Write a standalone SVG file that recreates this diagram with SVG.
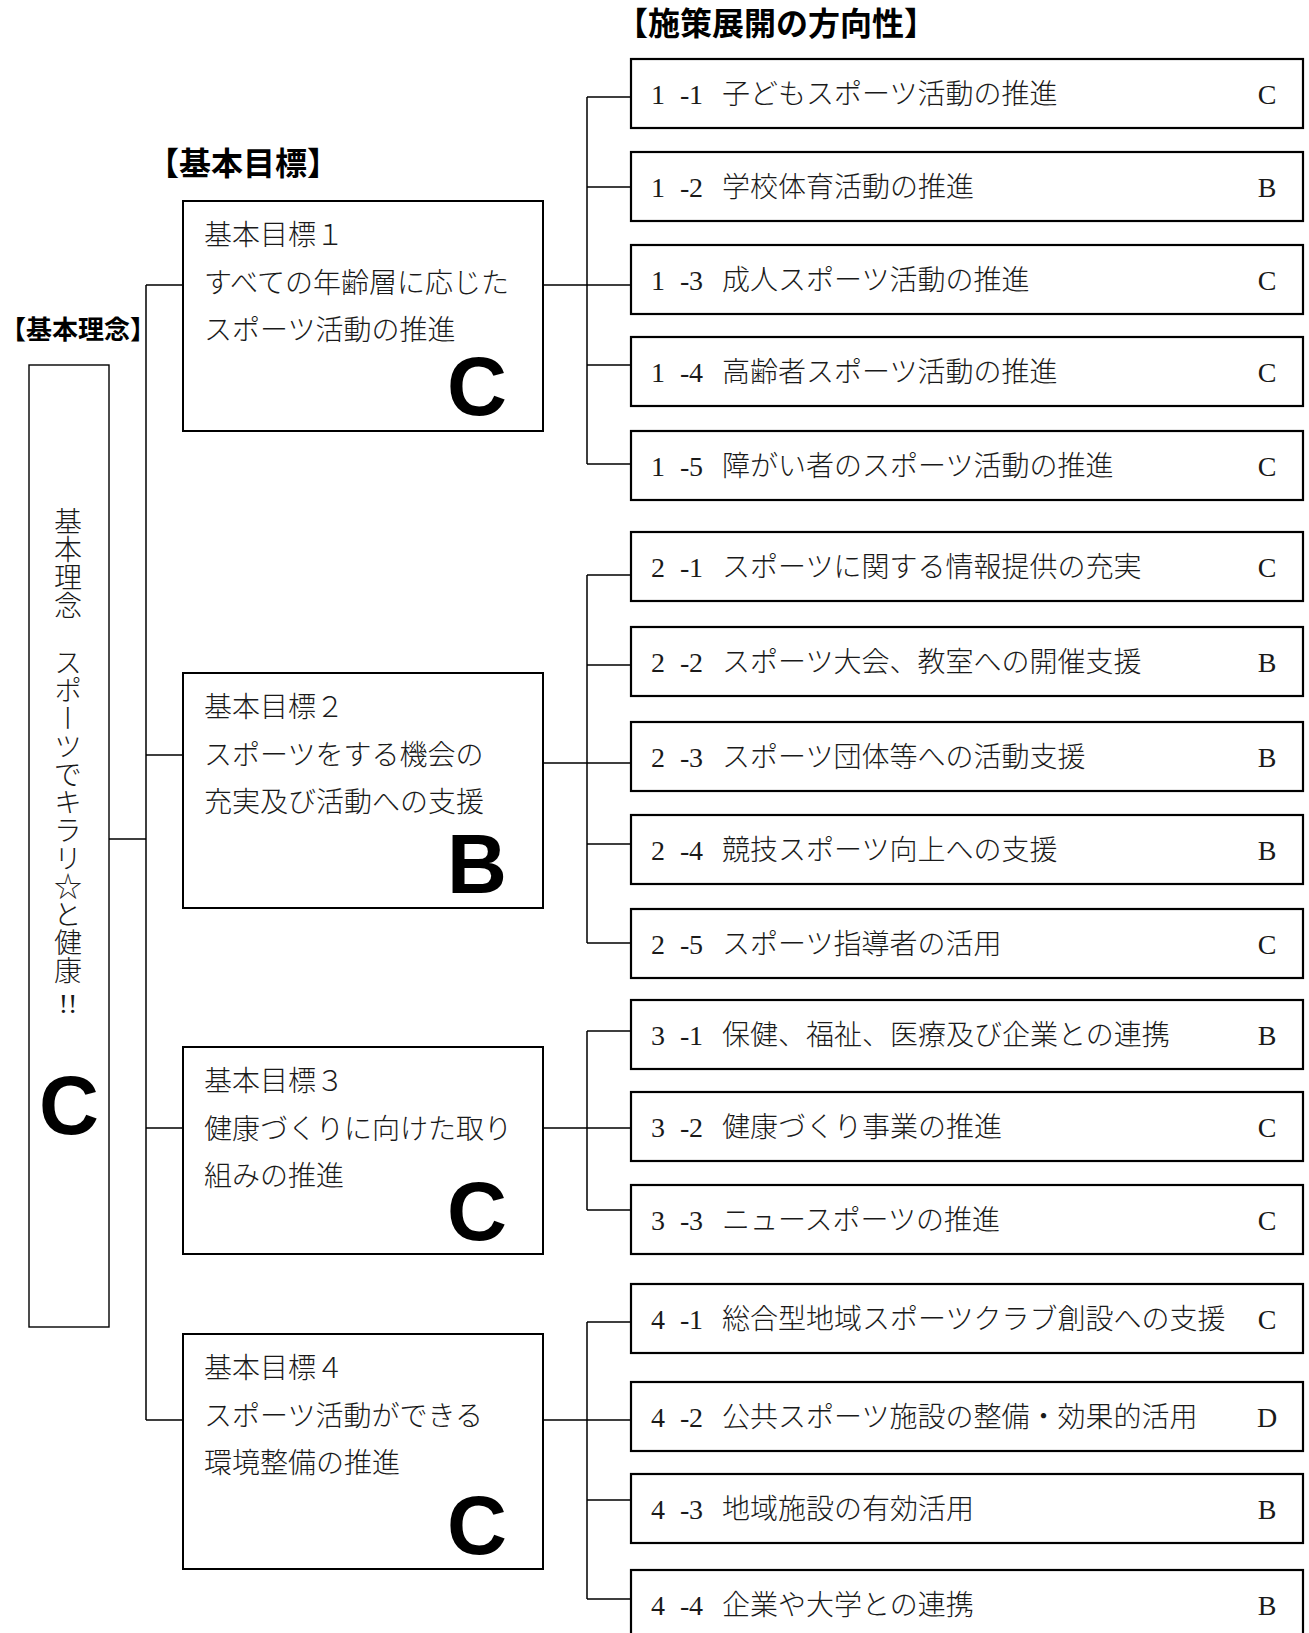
<svg xmlns="http://www.w3.org/2000/svg" width="1309" height="1633" viewBox="0 0 1309 1633">
<style>
.bg{fill:#ffffff}
.sb{fill:#ffffff;stroke:#000;stroke-width:2.2}
.gb{fill:#ffffff;stroke:#000;stroke-width:2}
.lb{fill:#ffffff;stroke:#000;stroke-width:1.4}
.ln{fill:none;stroke:#000;stroke-width:1.5}
.st{font-family:"Liberation Serif","Noto Sans CJK JP",serif;font-size:28px;font-weight:300;fill:#1a1a1a}
.rt{font-family:"Liberation Serif",serif;font-size:28px;fill:#1a1a1a;text-anchor:middle}
.hd{font-family:"Noto Sans CJK JP",sans-serif;font-weight:bold;fill:#000}
.big{font-family:"Liberation Sans",Arial,sans-serif;font-weight:bold;font-size:83px;fill:#000}
.vt{font-family:"Noto Sans CJK JP",sans-serif;font-size:28px;font-weight:300;fill:#1a1a1a;writing-mode:vertical-rl}
</style>
<rect class="bg" x="0" y="0" width="1309" height="1633"/>

<g id="headings">
<text class="hd" x="0" y="339" font-size="26">【基本理念】</text>
<text class="hd" x="243" y="175" font-size="32" text-anchor="middle">【基本目標】</text>
<text class="hd" x="776" y="35" font-size="32" text-anchor="middle">【施策展開の方向性】</text>
</g>

<g id="connectors">
<path class="ln" d="M109 839H146M146 285V1420M146 285H183M146 755H183M146 1128H183M146 1420H183"/>
<path class="ln" d="M543 285H587M587 97V464M587 97H631M587 187H631M587 285H631M587 365H631M587 464H631"/>
<path class="ln" d="M543 763H587M587 575V943M587 575H631M587 665H631M587 763H631M587 844H631M587 943H631"/>
<path class="ln" d="M543 1128H587M587 1031V1210M587 1031H631M587 1128H631M587 1210H631"/>
<path class="ln" d="M543 1420H587M587 1322V1599M587 1322H631M587 1420H631M587 1500H631M587 1599H631"/>
</g>

<g id="kihonrinen">
<rect class="lb" x="29" y="365" width="80" height="962"/>
<text class="vt" x="68" y="507">基本理念</text>
<text class="vt" x="68" y="648">スポーツでキラリ☆と健康</text>
<text class="rt" x="68" y="1013" font-size="26">!!</text>
<text class="big" x="69" y="1134" text-anchor="middle">C</text>
</g>

<g id="goal1">
<rect class="gb" x="183" y="201" width="360" height="230"/>
<text class="st" x="204" y="245">基本目標１</text>
<text class="st" x="204" y="292.5">すべての年齢層に応じた</text>
<text class="st" x="204" y="340">スポーツ活動の推進</text>
<text class="big" x="507" y="415" text-anchor="end">C</text>
</g>
<g id="goal2">
<rect class="gb" x="183" y="673" width="360" height="235"/>
<text class="st" x="204" y="717">基本目標２</text>
<text class="st" x="204" y="764.5">スポーツをする機会の</text>
<text class="st" x="204" y="812">充実及び活動への支援</text>
<text class="big" x="507" y="893" text-anchor="end">B</text>
</g>
<g id="goal3">
<rect class="gb" x="183" y="1047" width="360" height="207"/>
<text class="st" x="204" y="1091">基本目標３</text>
<text class="st" x="204" y="1138.5">健康づくりに向けた取り</text>
<text class="st" x="204" y="1186">組みの推進</text>
<text class="big" x="507" y="1240" text-anchor="end">C</text>
</g>
<g id="goal4">
<rect class="gb" x="183" y="1334" width="360" height="235"/>
<text class="st" x="204" y="1378">基本目標４</text>
<text class="st" x="204" y="1425.5">スポーツ活動ができる</text>
<text class="st" x="204" y="1473">環境整備の推進</text>
<text class="big" x="507" y="1554" text-anchor="end">C</text>
</g>

<g id="s1-1"><rect class="sb" x="631" y="59" width="672" height="69"/><text class="st" y="103.5"><tspan x="651">1</tspan><tspan x="680">-</tspan><tspan x="689">1</tspan><tspan x="722">子どもスポーツ活動の推進</tspan></text><text class="rt" x="1267" y="103.5">C</text></g>
<g id="s1-2"><rect class="sb" x="631" y="152" width="672" height="69"/><text class="st" y="196.5"><tspan x="651">1</tspan><tspan x="680">-</tspan><tspan x="689">2</tspan><tspan x="722">学校体育活動の推進</tspan></text><text class="rt" x="1267" y="196.5">B</text></g>
<g id="s1-3"><rect class="sb" x="631" y="245" width="672" height="69"/><text class="st" y="289.5"><tspan x="651">1</tspan><tspan x="680">-</tspan><tspan x="689">3</tspan><tspan x="722">成人スポーツ活動の推進</tspan></text><text class="rt" x="1267" y="289.5">C</text></g>
<g id="s1-4"><rect class="sb" x="631" y="337" width="672" height="69"/><text class="st" y="381.5"><tspan x="651">1</tspan><tspan x="680">-</tspan><tspan x="689">4</tspan><tspan x="722">高齢者スポーツ活動の推進</tspan></text><text class="rt" x="1267" y="381.5">C</text></g>
<g id="s1-5"><rect class="sb" x="631" y="431" width="672" height="69"/><text class="st" y="475.5"><tspan x="651">1</tspan><tspan x="680">-</tspan><tspan x="689">5</tspan><tspan x="722">障がい者のスポーツ活動の推進</tspan></text><text class="rt" x="1267" y="475.5">C</text></g>

<g id="s2-1"><rect class="sb" x="631" y="532" width="672" height="69"/><text class="st" y="576.5"><tspan x="651">2</tspan><tspan x="680">-</tspan><tspan x="689">1</tspan><tspan x="722">スポーツに関する情報提供の充実</tspan></text><text class="rt" x="1267" y="576.5">C</text></g>
<g id="s2-2"><rect class="sb" x="631" y="627" width="672" height="69"/><text class="st" y="671.5"><tspan x="651">2</tspan><tspan x="680">-</tspan><tspan x="689">2</tspan><tspan x="722">スポーツ大会、教室への開催支援</tspan></text><text class="rt" x="1267" y="671.5">B</text></g>
<g id="s2-3"><rect class="sb" x="631" y="722" width="672" height="69"/><text class="st" y="766.5"><tspan x="651">2</tspan><tspan x="680">-</tspan><tspan x="689">3</tspan><tspan x="722">スポーツ団体等への活動支援</tspan></text><text class="rt" x="1267" y="766.5">B</text></g>
<g id="s2-4"><rect class="sb" x="631" y="815" width="672" height="69"/><text class="st" y="859.5"><tspan x="651">2</tspan><tspan x="680">-</tspan><tspan x="689">4</tspan><tspan x="722">競技スポーツ向上への支援</tspan></text><text class="rt" x="1267" y="859.5">B</text></g>
<g id="s2-5"><rect class="sb" x="631" y="909" width="672" height="69"/><text class="st" y="953.5"><tspan x="651">2</tspan><tspan x="680">-</tspan><tspan x="689">5</tspan><tspan x="722">スポーツ指導者の活用</tspan></text><text class="rt" x="1267" y="953.5">C</text></g>

<g id="s3-1"><rect class="sb" x="631" y="1000" width="672" height="69"/><text class="st" y="1044.5"><tspan x="651">3</tspan><tspan x="680">-</tspan><tspan x="689">1</tspan><tspan x="722">保健、福祉、医療及び企業との連携</tspan></text><text class="rt" x="1267" y="1044.5">B</text></g>
<g id="s3-2"><rect class="sb" x="631" y="1092" width="672" height="69"/><text class="st" y="1136.5"><tspan x="651">3</tspan><tspan x="680">-</tspan><tspan x="689">2</tspan><tspan x="722">健康づくり事業の推進</tspan></text><text class="rt" x="1267" y="1136.5">C</text></g>
<g id="s3-3"><rect class="sb" x="631" y="1185" width="672" height="69"/><text class="st" y="1229.5"><tspan x="651">3</tspan><tspan x="680">-</tspan><tspan x="689">3</tspan><tspan x="722">ニュースポーツの推進</tspan></text><text class="rt" x="1267" y="1229.5">C</text></g>

<g id="s4-1"><rect class="sb" x="631" y="1284" width="672" height="69"/><text class="st" y="1328.5"><tspan x="651">4</tspan><tspan x="680">-</tspan><tspan x="689">1</tspan><tspan x="722">総合型地域スポーツクラブ創設への支援</tspan></text><text class="rt" x="1267" y="1328.5">C</text></g>
<g id="s4-2"><rect class="sb" x="631" y="1382" width="672" height="69"/><text class="st" y="1426.5"><tspan x="651">4</tspan><tspan x="680">-</tspan><tspan x="689">2</tspan><tspan x="722">公共スポーツ施設の整備・効果的活用</tspan></text><text class="rt" x="1267" y="1426.5">D</text></g>
<g id="s4-3"><rect class="sb" x="631" y="1474" width="672" height="69"/><text class="st" y="1518.5"><tspan x="651">4</tspan><tspan x="680">-</tspan><tspan x="689">3</tspan><tspan x="722">地域施設の有効活用</tspan></text><text class="rt" x="1267" y="1518.5">B</text></g>
<g id="s4-4"><rect class="sb" x="631" y="1570" width="672" height="69"/><text class="st" y="1614.5"><tspan x="651">4</tspan><tspan x="680">-</tspan><tspan x="689">4</tspan><tspan x="722">企業や大学との連携</tspan></text><text class="rt" x="1267" y="1614.5">B</text></g>
</svg>
